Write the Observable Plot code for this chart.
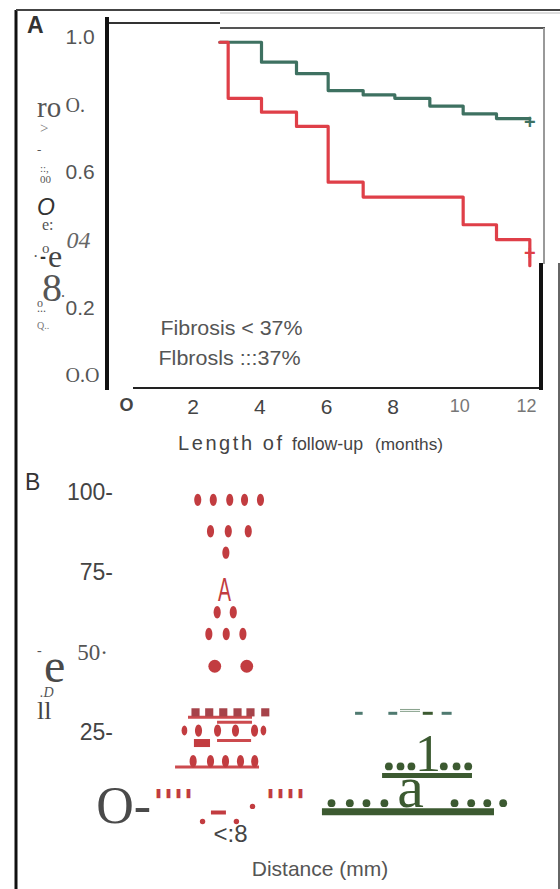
<!DOCTYPE html>
<html><head><meta charset="utf-8">
<script src="https://cdn.jsdelivr.net/npm/d3@7"></script>
<script src="https://cdn.jsdelivr.net/npm/@observablehq/plot@0.6"></script>
<style>
body{margin:0;background:#fff;}
#wrap{position:relative;width:560px;height:889px;overflow:hidden;background:#fff;}
#wrap svg{position:absolute;left:0;}
</style></head><body><div id="wrap"></div>
<script>
// ---------- Panel A data (Kaplan-Meier) ----------
const kmTimes   = [2.8, 3.05, 4.05, 5.1, 6.05, 7.1, 8.05, 9.1, 10.1, 11.1, 12.1];
const survLow   = [0.986, 0.986, 0.927, 0.893, 0.843, 0.830, 0.820, 0.797, 0.774, 0.760, 0.760];
const survHigh  = [0.986, 0.820, 0.779, 0.737, 0.572, 0.528, 0.528, 0.528, 0.446, 0.402, 0.325];
const censorTimes = [12.1, 12.1];
const censorSurv  = [0.748, 0.36];
const groupNames  = ["Fibrosis < 37%", "Flbrosls :::37%"];
const yTicksA      = [1.0, 0.8, 0.6, 0.4, 0.2, 0.0];
const yTickLabelsA = ["1.0", "O.", "0.6", "04", "0.2", "O.O"];
const xTicksA      = [0, 2, 4, 6, 8, 10, 12];
const xTickLabelsA = ["O", "2", "4", "6", "8", "10", "12"];

// ---------- Panel B data (distance groups, jittered points) ----------
const groupsB      = [1];
const groupLabelsB = ["<:8"];
const yTicksB      = [100, 75, 50, 25, 0];
const yTickLabelsB = ["100-", "75-", "50·", "25-", "O-"];
const redDotX = [0.850,0.934,1.023,1.103,1.189, 0.919,1.015,1.123, 1.002, 0.955,1.042, 0.910,1.004,1.094, 0.854,0.957,1.054,1.157, 0.825,0.919,1.0,1.081,1.158];
const redDotY = [97.7,97.7,97.7,97.7,97.7, 87.9,87.9,87.9, 81.2, 62.6,62.6, 55.8,55.8,55.8, 25.6,25.6,25.6,25.6, 16.0,16.0,16.0,16.0,16.0];
const redSmallX = [0.778, 1.205];
const redSmallY = [25.6, 25.6];
const redBigX = [0.942, 1.115];
const redBigY = [45.7, 45.7];
const redTinyX = [0.876, 1.059, 1.146];
const redTinyY = [-2.8, -2.8, 1.9];
const redSquareX = [0.838, 0.912, 0.988, 1.065, 1.135, 1.215];
const redSquareY = [31.3, 31.3, 31.3, 31.3, 31.3, 31.3];
const redRuleY  = [29.8, 28.2, 22.5, 14.2, 0.0];
const redRuleX1 = [0.800, 0.957, 0.957, 0.730, 0.924];
const redRuleX2 = [1.146, 1.146, 1.141, 1.184, 1.005];
const redBoxX1 = [0.832], redBoxX2 = [0.919], redBoxY1 = [20.3], redBoxY2 = [22.8];
const redMarkText = ["A", "''''", "''''"];
const redMarkX    = [0.995, 0.719, 1.324];
const redMarkY    = [69.4, 4.7, 4.7];
const greenDotX = [1.883,1.946,2.005,2.180,2.249,2.312, 1.573,1.672,1.762,1.859,2.238,2.328,2.415,2.501];
const greenDotY = [14.4,14.4,14.4,14.4,14.4,14.4, 2.9,2.9,2.9,2.9,2.9,2.9,2.9,2.9];
const greenRuleY  = [11.6, 0.2];
const greenRuleX1 = [1.849, 1.524];
const greenRuleX2 = [2.335, 2.454];
const greenDashY  = [31.0, 31.0, 31.0, 31.0];
const greenDashX1 = [1.703, 1.883, 2.069, 2.171];
const greenDashX2 = [1.744, 1.931, 2.123, 2.225];
const greenDoubleY  = [32.2, 31.6];
const greenDoubleX1 = [1.946, 1.946];
const greenDoubleX2 = [2.054, 2.054];
const greenMarkText = ["1", "a"];
const greenMarkX    = [2.095, 2.0];
const greenMarkY    = [13.1, 1.6];

// ---------- styles ----------
const SANS = "'Liberation Sans', Arial, sans-serif";
const SERIF = "'Liberation Serif', 'Times New Roman', serif";
const HEAVY = "'DejaVu Sans', 'Liberation Sans', sans-serif";
const RED_KM = "#df3f48", GREEN_KM = "#3e7161";
const RED = "#c23c40", RED_DARK = "#a6434a", GREEN = "#3c5a31", TEAL = "#4f7a70";

const ellipse = { draw(ctx, size) {
  const ry = Math.sqrt(size / Math.PI), rx = ry * 0.57, k = 0.5523;
  ctx.moveTo(0, -ry);
  ctx.bezierCurveTo(k*rx, -ry, rx, -k*ry, rx, 0);
  ctx.bezierCurveTo(rx, k*ry, k*rx, ry, 0, ry);
  ctx.bezierCurveTo(-k*rx, ry, -rx, k*ry, -rx, 0);
  ctx.bezierCurveTo(-rx, -k*ry, -k*rx, -ry, 0, -ry);
  ctx.closePath();
}};

const wrap = document.getElementById("wrap");

// ---------- Panel A ----------
const lowData  = kmTimes.map((t, i) => ({t, s: survLow[i]}));
const highData = kmTimes.map((t, i) => ({t, s: survHigh[i]}));
const censorData = censorTimes.map((t, i) => ({t, s: censorSurv[i], c: i === 0 ? GREEN_KM : RED_KM}));
const yA = yTicksA.map((v, i) => ({v, label: yTickLabelsA[i], i}));
const xA = xTicksA.map((v, i) => ({v, label: xTickLabelsA[i], i}));
const legendA = groupNames.map((g, i) => ({g, i}));

const plotA = Plot.plot({
  width: 560, height: 460,
  marginLeft: 126, marginRight: 34, marginTop: 37, marginBottom: 85,
  x: {domain: [0, 12], axis: null},
  y: {domain: [0, 1], axis: null},
  style: {background: "transparent", fontFamily: SANS, overflow: "visible"},
  marks: [
    Plot.line(lowData, {x: "t", y: "s", curve: "step-after", stroke: GREEN_KM, strokeWidth: 3.2}),
    Plot.line(highData, {x: "t", y: "s", curve: "step-after", stroke: RED_KM, strokeWidth: 3.2}),
    Plot.text(censorData, {x: "t", y: "s", text: () => "+", fill: "c", fontSize: 20, fontWeight: "bold"}),
    Plot.text(yA.filter(d => [0, 2, 4].includes(d.i)), {y: "v", text: "label", frameAnchor: "left", dx: -61, textAnchor: "start", fontSize: 21, fill: "#555"}),
    Plot.text(yA.filter(d => [1, 5].includes(d.i)), {y: "v", text: "label", frameAnchor: "left", dx: -61, textAnchor: "start", fontSize: 20, fill: "#555", fontFamily: SERIF}),
    Plot.text(yA.filter(d => d.i === 3), {y: "v", text: "label", frameAnchor: "left", dx: -60, textAnchor: "start", fontSize: 24, fill: "#666", fontFamily: SERIF, fontStyle: "italic"}),
    Plot.text(xA.filter(d => d.i === 0), {x: "v", text: "label", frameAnchor: "bottom", dy: 35, fontSize: 18, fontWeight: "bold", fill: "#444"}),
    Plot.text(xA.filter(d => d.i > 0 && d.i < 5), {x: "v", text: "label", frameAnchor: "bottom", dy: 38, fontSize: 21, fill: "#444"}),
    Plot.text(xA.filter(d => d.i >= 5), {x: "v", text: "label", frameAnchor: "bottom", dy: 36, fontSize: 18, fill: "#777"}),
    Plot.text(legendA, {text: "g", frameAnchor: "bottom-left", textAnchor: "start", fontSize: 20, fill: "#555"})
  ]
});
plotA.style.top = "0px";
wrap.appendChild(plotA);
// place the two legend lines inside the plot area
d3.select(plotA).selectAll("text").filter(function() { return groupNames.includes(this.textContent); })
  .each(function() {
    const i = groupNames.indexOf(this.textContent);
    d3.select(this).attr("x", 0).attr("y", 0)
      .attr("transform", `translate(${i === 0 ? 160 : 158},${i === 0 ? 334 : 364})`)
      .attr("textLength", 142).attr("lengthAdjust", "spacingAndGlyphs");
  });

// ---------- Panel B ----------
const pts = (xs, ys) => xs.map((x, i) => ({x, y: ys[i]}));
const segs = (x1, x2, y) => x1.map((a, i) => ({x1: a, x2: x2[i], y: y[i]}));
const yB = yTicksB.map((v, i) => ({v, label: yTickLabelsB[i], i}));
const redMarks = redMarkText.map((t, i) => ({t, x: redMarkX[i], y: redMarkY[i]}));
const greenMarks = greenMarkText.map((t, i) => ({t, x: greenMarkX[i], y: greenMarkY[i]}));

const plotB = Plot.plot({
  width: 560, height: 429,
  marginLeft: 132.5, marginRight: 57.5, marginTop: 32, marginBottom: 77,
  x: {domain: [0.5, 2.5], axis: null},
  y: {domain: [0, 100], axis: null},
  style: {background: "transparent", fontFamily: SANS, overflow: "visible"},
  marks: [
    Plot.ruleY(segs(redRuleX1, redRuleX2, redRuleY).slice(0, 4), {x1: "x1", x2: "x2", y: "y", stroke: "#cc4a4e", strokeWidth: 3}),
    Plot.ruleY(segs(redRuleX1, redRuleX2, redRuleY).slice(4), {x1: "x1", x2: "x2", y: "y", stroke: RED, strokeWidth: 4}),
    Plot.rect(redBoxX1.map((a, i) => ({x1: a, x2: redBoxX2[i], y1: redBoxY1[i], y2: redBoxY2[i]})), {x1: "x1", x2: "x2", y1: "y1", y2: "y2", fill: RED}),
    Plot.dot(pts(redDotX, redDotY), {x: "x", y: "y", r: 6.2, symbol: ellipse, fill: RED}),
    Plot.dot(pts(redSmallX, redSmallY), {x: "x", y: "y", r: 5, symbol: ellipse, fill: RED}),
    Plot.dot(pts(redBigX, redBigY), {x: "x", y: "y", r: 6.4, fill: RED}),
    Plot.dot(pts(redTinyX, redTinyY), {x: "x", y: "y", r: 2.7, fill: RED}),
    Plot.dot(pts(redSquareX, redSquareY), {x: "x", y: "y", r: 4.6, symbol: "square", fill: RED_DARK}),
    Plot.text(redMarks.slice(0, 1), {x: "x", y: "y", text: "t", fill: RED, fontSize: 34}),
    Plot.text(redMarks.slice(1), {x: "x", y: "y", text: "t", fill: RED, fontSize: 34, fontWeight: "bold", fontFamily: HEAVY, lineAnchor: "top", dy: -8}),
    Plot.ruleY(segs(greenRuleX1, greenRuleX2, greenRuleY).slice(0, 1), {x1: "x1", x2: "x2", y: "y", stroke: GREEN, strokeWidth: 5}),
    Plot.ruleY(segs(greenRuleX1, greenRuleX2, greenRuleY).slice(1), {x1: "x1", x2: "x2", y: "y", stroke: GREEN, strokeWidth: 7}),
    Plot.ruleY(segs(greenDashX1, greenDashX2, greenDashY), {x1: "x1", x2: "x2", y: "y", stroke: (d, i) => i === 2 ? GREEN : TEAL, strokeWidth: 3}),
    Plot.ruleY(segs(greenDoubleX1, greenDoubleX2, greenDoubleY), {x1: "x1", x2: "x2", y: "y", stroke: "#86a08a", strokeWidth: 1}),
    Plot.dot(pts(greenDotX, greenDotY), {x: "x", y: "y", r: 3.9, fill: GREEN}),
    Plot.text(greenMarks.slice(0, 1), {x: "x", y: "y", text: "t", fill: GREEN, fontSize: 52, fontFamily: SERIF, lineAnchor: "bottom"}),
    Plot.text(greenMarks.slice(1), {x: "x", y: "y", text: "t", fill: GREEN, fontSize: 60, fontFamily: SERIF, lineAnchor: "bottom"}),
    Plot.text(yB.filter(d => [0, 1, 3].includes(d.i)), {y: "v", text: "label", frameAnchor: "left", dx: -20, textAnchor: "end", fontSize: 23, fill: "#444"}),
    Plot.text(yB.filter(d => d.i === 2), {y: "v", text: "label", frameAnchor: "left", dx: -25, textAnchor: "end", fontSize: 23, fill: "#555", fontFamily: SERIF}),
    Plot.text(yB.filter(d => d.i === 4), {y: "v", text: "label", frameAnchor: "left", dx: 18, dy: -6, textAnchor: "end", fontSize: 52, fill: "#4a4a4a", fontFamily: SERIF}),
    Plot.text(groupsB.map((g, i) => ({g, label: groupLabelsB[i]})), {x: "g", text: "label", frameAnchor: "bottom", dx: 5, dy: 29, fontSize: 24, fill: "#444"}),
    Plot.text(["Distance (mm)"], {text: d => d, frameAnchor: "bottom", dx: 2, dy: 63, fontSize: 21, fill: "#555"})
  ]
});
plotB.style.top = "460px";
wrap.appendChild(plotB);
// the scanned "A" glyph is tall and narrow; the quote marks are tightly packed
d3.select(plotB).selectAll("text").filter(function() { return this.textContent === "A"; })
  .attr("textLength", 13).attr("lengthAdjust", "spacingAndGlyphs");
d3.select(plotB).selectAll("text").filter(function() { return this.textContent === "''''"; })
  .attr("textLength", 40).attr("lengthAdjust", "spacingAndGlyphs");

// ---------- overlay: frame lines and scanned (garbled) axis titles ----------
const ov = d3.select(wrap).append("svg").attr("width", 560).attr("height", 889).style("top", "0px");
const lines = [
  [16, 10, 16, 889, 3, "#111"],
  [16, 10, 560, 10, 2, "#444"],
  [220, 13, 560, 13, 1, "#bbb"],
  [220, 28, 545, 28, 2, "#555"],
  [544, 28, 544, 264, 2, "#999"],
  [108, 23, 220, 23, 2, "#333"],
  [107, 17, 107, 390, 4, "#111"],
  [133, 388, 542, 388, 2, "#222"],
  [541, 263, 541, 390, 4, "#111"],
  [559, 263, 559, 889, 1.5, "#333"]
];
ov.selectAll("line").data(lines).join("line")
  .attr("x1", d => d[0]).attr("y1", d => d[1]).attr("x2", d => d[2]).attr("y2", d => d[3])
  .attr("stroke-width", d => d[4]).attr("stroke", d => d[5]);

const labels = [
  // text, x, baseline, size, family, weight, style, fill
  ["A", 27, 33, 23, SANS, "bold", "normal", "#333"],
  ["ro", 37, 117, 29, SERIF, "normal", "normal", "#555"],
  [">", 40, 133, 15, SERIF, "normal", "normal", "#777"],
  ["-", 37, 154, 13, SERIF, "normal", "normal", "#555"],
  ["::,", 40, 172, 11, SERIF, "normal", "normal", "#555"],
  ["00", 40, 183, 11, SERIF, "normal", "normal", "#555"],
  ["O", 37, 215, 23, SANS, "normal", "italic", "#333"],
  ["e:", 42, 230, 16, SERIF, "normal", "normal", "#555"],
  ["o", 42, 253, 15, SERIF, "normal", "normal", "#555"],
  ["-", 40, 263, 18, SANS, "bold", "normal", "#333"],
  ["·", 33, 262, 16, SERIF, "normal", "normal", "#555"],
  ["e", 48, 267, 32, SERIF, "normal", "normal", "#444"],
  ["8", 42, 301, 40, SERIF, "normal", "normal", "#555"],
  [".", 61, 297, 16, SERIF, "normal", "normal", "#555"],
  ["o", 37, 307, 12, SERIF, "normal", "normal", "#555"],
  ["...", 37, 312, 12, SERIF, "normal", "normal", "#555"],
  ["Q..", 37, 329, 10, SERIF, "normal", "normal", "#777"],
  ["B", 25, 490, 23, SANS, "normal", "normal", "#333"],
  ["-", 37, 655, 14, SERIF, "normal", "normal", "#555"],
  ["e", 44, 682, 48, SERIF, "normal", "normal", "#4a4a4a"],
  [".D", 40, 697, 14, SERIF, "normal", "italic", "#555"],
  ["ll", 37, 719, 26, SERIF, "normal", "normal", "#444"]
];
ov.selectAll("text.g").data(labels).join("text").attr("class", "g")
  .attr("x", d => d[1]).attr("y", d => d[2]).text(d => d[0])
  .attr("font-size", d => d[3]).attr("font-family", d => d[4])
  .attr("font-weight", d => d[5]).attr("font-style", d => d[6]).attr("fill", d => d[7]);

// x-axis title of panel A (three differently scanned pieces)
const titleA = [
  ["Length of", 178, 104, 20, "spacing"],
  ["follow-up", 292, 71, 19, "spacingAndGlyphs"],
  ["(months)", 375, 68, 17, "spacingAndGlyphs"]
];
ov.selectAll("text.t").data(titleA).join("text").attr("class", "t")
  .attr("x", d => d[1]).attr("y", 450).text(d => d[0])
  .attr("font-size", d => d[3]).attr("font-family", SANS).attr("fill", "#444")
  .attr("textLength", d => d[2]).attr("lengthAdjust", d => d[4]);
</script></body></html>
